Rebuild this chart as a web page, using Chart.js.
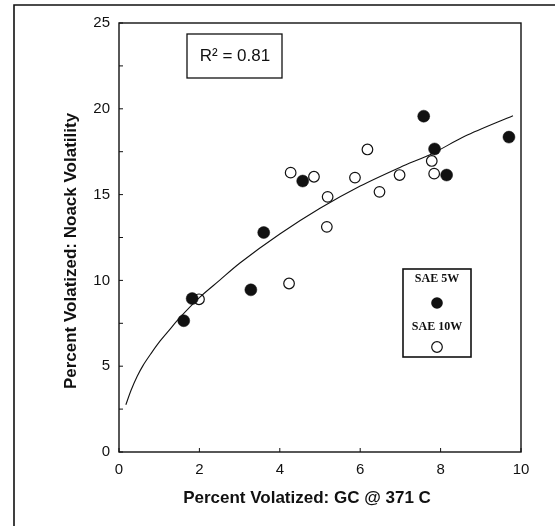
<!DOCTYPE html>
<html>
<head>
<meta charset="utf-8">
<script src="https://cdn.jsdelivr.net/npm/chart.js@4.4.1/dist/chart.umd.min.js"></script>
<style>
  html, body { margin: 0; padding: 0; background: #fff; }
  #wrap { width: 555px; height: 526px; }
</style>
</head>
<body>
<div id="wrap"><canvas id="myChart" width="555" height="526"></canvas></div>
<script>
// SAE 5W (filled circles)
var x5w = [1.61, 1.82, 3.28, 3.60, 4.57, 7.58, 7.85, 8.15, 9.70];
var y5w = [7.65, 8.94, 9.45, 12.79, 15.79, 19.57, 17.66, 16.14, 18.35];
// SAE 10W (open circles)
var x10w = [1.99, 4.23, 4.27, 4.85, 5.19, 5.17, 5.87, 6.18, 6.48, 6.98, 7.78, 7.84];
var y10w = [8.9, 9.82, 16.28, 16.04, 14.87, 13.12, 15.99, 17.63, 15.16, 16.14, 16.96, 16.22];
// fitted trend curve
var xFit = [0.17, 0.3, 0.45, 0.6, 0.8, 1.0, 1.25, 1.5, 2.0, 2.5, 3.0, 4.0, 5.0, 6.0, 7.0, 7.8, 8.6, 9.8];
var yFit = [2.75, 3.6, 4.4, 5.05, 5.75, 6.4, 7.1, 7.8, 9.0, 10.0, 11.0, 12.7, 14.2, 15.5, 16.6, 17.4, 18.4, 19.6];

var xTicks = [0, 2, 4, 6, 8, 10];
var yTicks = [0, 5, 10, 15, 20, 25];
var yMinor = [2.5, 7.5, 12.5, 17.5, 22.5];

var xTitle = 'Percent Volatized: GC @ 371 C';
var yTitle = 'Percent Volatized: Noack Volatility';
var r2Text = 'R\u00b2 = 0.81';
var legendNames = ['SAE 5W', 'SAE 10W'];

function pts(xs, ys) {
	var out = [];
	for (var i = 0; i < xs.length; i++) out.push({x: xs[i], y: ys[i]});
	return out;
}

var SANS = '"Liberation Sans", Arial, sans-serif';

// frame, inner ticks, box border, titles, R2 box and legend
var decor = {
	id: 'decor',
	beforeDraw: function(chart) {
		var c = chart.ctx;
		c.save();
		c.fillStyle = '#fff';
		c.fillRect(0, 0, chart.width, chart.height);
		c.restore();
	},
	afterDraw: function(chart) {
		var c = chart.ctx;
		var a = chart.chartArea;
		var xs = chart.scales.x, ys = chart.scales.y;
		c.save();
		c.strokeStyle = '#111';
		// outer frame
		c.lineWidth = 1.6;
		c.beginPath();
		c.moveTo(14, 526);
		c.lineTo(14, 5);
		c.lineTo(555, 5);
		c.stroke();
		// plot box
		c.lineWidth = 1.4;
		c.strokeRect(a.left, a.top, a.right - a.left, a.bottom - a.top);
		// inner ticks
		c.lineWidth = 1;
		c.beginPath();
		xTicks.forEach(function(v) {
			var px = xs.getPixelForValue(v);
			c.moveTo(px, a.bottom);
			c.lineTo(px, a.bottom - 4);
		});
		yTicks.concat(yMinor).forEach(function(v) {
			var py = ys.getPixelForValue(v);
			c.moveTo(a.left, py);
			c.lineTo(a.left + 4, py);
		});
		c.stroke();

		// axis titles
		c.fillStyle = '#111';
		c.font = 'bold 17px ' + SANS;
		c.textAlign = 'center';
		c.textBaseline = 'middle';
		c.fillText(xTitle, 307, 498);
		c.save();
		c.translate(71, 251);
		c.rotate(-Math.PI / 2);
		c.fillText(yTitle, 0, 0);
		c.restore();

		// R2 box
		c.lineWidth = 1.3;
		c.strokeRect(187, 34, 95, 44);
		c.font = '17px ' + SANS;
		c.fillText(r2Text, 235, 56);

		// legend box
		c.lineWidth = 1.6;
		c.strokeRect(403, 269, 68, 88);
		c.font = 'bold 12px "Liberation Serif", "Times New Roman", serif';
		c.fillText(legendNames[0], 437, 279);
		c.fillText(legendNames[1], 437, 327);
		c.beginPath();
		c.arc(437, 303, 5.8, 0, Math.PI * 2);
		c.fillStyle = '#111';
		c.fill();
		c.beginPath();
		c.arc(437, 347, 5.3, 0, Math.PI * 2);
		c.fillStyle = '#fff';
		c.fill();
		c.lineWidth = 1.2;
		c.stroke();
		c.restore();
	}
};

var myChart = document.getElementById('myChart').getContext('2d');

var chart = new Chart(myChart, {
	type: 'scatter',
	data: {
		datasets: [
		{
			label: 'fit',
			data: pts(xFit, yFit),
			showLine: true,
			borderColor: '#111',
			borderWidth: 1.1,
			pointRadius: 0,
			tension: 0.3,
			fill: false
		},
		{
			label: legendNames[0],
			data: pts(x5w, y5w),
			pointRadius: 6,
			pointBackgroundColor: '#111',
			pointBorderColor: '#111',
			pointBorderWidth: 0.5
		},
		{
			label: legendNames[1],
			data: pts(x10w, y10w),
			pointRadius: 5.3,
			pointBackgroundColor: '#fff',
			pointBorderColor: '#111',
			pointBorderWidth: 1.2
		}
	]
	},
	options: {
		responsive: false,
		animation: false,
		layout: {
			padding: {left: 0, top: 23, right: 34, bottom: 0}
		},
		plugins: {
			legend: { display: false },
			tooltip: { enabled: false }
		},
		scales: {
			x: {
				type: 'linear',
				min: 0,
				max: 10,
				grid: { display: false, drawTicks: false },
				border: { display: false },
				afterBuildTicks: function(s) {
					s.ticks = xTicks.map(function(v) { return {value: v}; });
				},
				afterFit: function(s) { s.height = 74; },
				ticks: {
					padding: 9,
					color: '#111',
					font: { family: SANS, size: 15 }
				}
			},
			y: {
				type: 'linear',
				min: 0,
				max: 25,
				grid: { display: false, drawTicks: false },
				border: { display: false },
				afterBuildTicks: function(s) {
					s.ticks = yTicks.map(function(v) { return {value: v}; });
				},
				afterFit: function(s) { s.width = 119; },
				ticks: {
					padding: 9,
					color: '#111',
					font: { family: SANS, size: 15 }
				}
			}
		}
	},
	plugins: [decor]
});
</script>
</body>
</html>
